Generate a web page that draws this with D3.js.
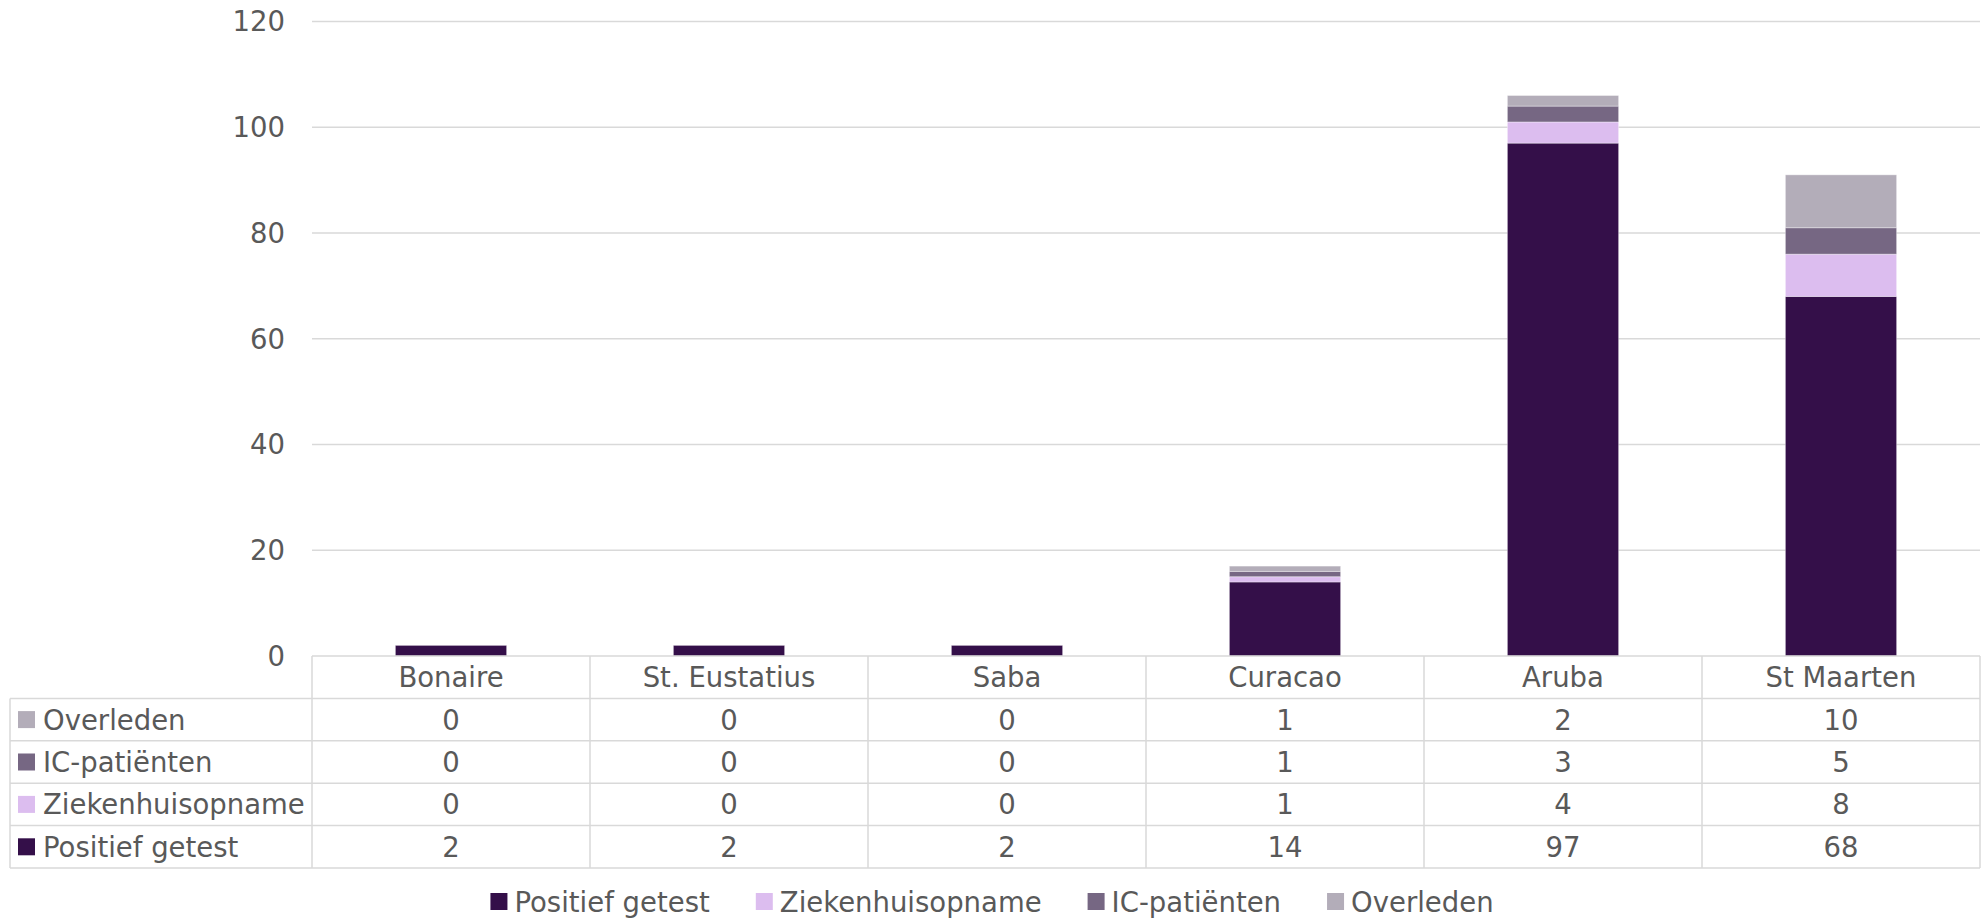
<!DOCTYPE html>
<html>
<head>
<meta charset="utf-8">
<script src="https://cdn.jsdelivr.net/npm/d3@7"></script>
<style>
  body { margin: 0; background: #fff; }
  svg { display: block; font-family: "DejaVu Sans", Verdana, sans-serif; }
</style>
</head>
<body>
<svg id="chart" width="1984" height="919"></svg>
<script>
// Data
const categories = ["Bonaire", "St. Eustatius", "Saba", "Curacao", "Aruba", "St Maarten"];
const positief = [2, 2, 2, 14, 97, 68];
const ziekenhuis = [0, 0, 0, 1, 4, 8];
const icPatienten = [0, 0, 0, 1, 3, 5];
const overleden = [0, 0, 0, 1, 2, 10];
const seriesNames = ["Positief getest", "Ziekenhuisopname", "IC-patiënten", "Overleden"];
const yTicks = [0, 20, 40, 60, 80, 100, 120];

const colors = ["#340f49", "#dcbdef", "#766783", "#b3adb9"];
const values = [positief, ziekenhuis, icPatienten, overleden];

const svg = d3.select("#chart");
const fs = 27.5;
const textColor = "#595959";
const gridColor = "#d9d9d9";

// Plot area
const plotLeft = 312, plotRight = 1980, plotTop = 21.5, zeroY = 656;
const rowH = 42.4;

const x = d3.scaleBand().domain(categories).range([plotLeft, plotRight]).paddingInner(0.6).paddingOuter(0.3);
const col = d3.scaleBand().domain(categories).range([plotLeft, plotRight]);
const y = d3.scaleLinear().domain([0, 120]).range([zeroY, plotTop]);

// Gridlines
svg.append("g")
  .selectAll("line")
  .data(yTicks.filter((t) => t > 0))
  .join("line")
  .attr("x1", plotLeft)
  .attr("x2", plotRight)
  .attr("y1", (d) => y(d))
  .attr("y2", (d) => y(d))
  .attr("stroke", gridColor)
  .attr("stroke-width", 1.5);

// Y axis labels
svg.append("g")
  .selectAll("text")
  .data(yTicks)
  .join("text")
  .attr("x", 285)
  .attr("y", (d) => y(d) + fs * 0.36)
  .attr("text-anchor", "end")
  .attr("fill", textColor)
  .style("font-size", fs + "px")
  .text((d) => d);

// Stacked bars
const rows = categories.map((c, i) => {
  const r = { cat: c };
  seriesNames.forEach((s, j) => (r[s] = values[j][i]));
  return r;
});
const stacked = d3.stack().keys(seriesNames)(rows);

svg.append("g")
  .selectAll("g")
  .data(stacked)
  .join("g")
  .attr("fill", (d, i) => colors[i])
  .selectAll("rect")
  .data((d) => d)
  .join("rect")
  .attr("x", (d) => x(d.data.cat))
  .attr("width", x.bandwidth())
  .attr("y", (d) => y(d[1]))
  .attr("height", (d) => y(d[0]) - y(d[1]))
  .attr("stroke", "#ffffff")
  .attr("stroke-opacity", 0.35)
  .attr("stroke-width", 1);

// Data table
const table = svg.append("g");
const tableRows = [3, 2, 1, 0]; // Overleden, IC, Ziekenhuis, Positief
const tableBottom = zeroY + rowH * (tableRows.length + 1);
const lineStyle = (sel) => sel.attr("stroke", gridColor).attr("stroke-width", 1.5);

// horizontal lines
table.append("line").attr("x1", plotLeft).attr("x2", plotRight).attr("y1", zeroY).attr("y2", zeroY).call(lineStyle);
d3.range(1, tableRows.length + 2).forEach((k) => {
  table.append("line")
    .attr("x1", 10).attr("x2", plotRight)
    .attr("y1", zeroY + k * rowH).attr("y2", zeroY + k * rowH)
    .call(lineStyle);
});
// vertical lines
table.append("line").attr("x1", 10).attr("x2", 10).attr("y1", zeroY + rowH).attr("y2", tableBottom).call(lineStyle);
categories.forEach((c) => {
  table.append("line").attr("x1", col(c)).attr("x2", col(c)).attr("y1", zeroY).attr("y2", tableBottom).call(lineStyle);
});
table.append("line").attr("x1", plotRight).attr("x2", plotRight).attr("y1", zeroY).attr("y2", tableBottom).call(lineStyle);

// category header
table.selectAll("text.cat")
  .data(categories)
  .join("text")
  .attr("class", "cat")
  .attr("x", (d) => col(d) + col.bandwidth() / 2)
  .attr("y", zeroY + rowH / 2 + fs * 0.36)
  .attr("text-anchor", "middle")
  .attr("fill", textColor)
  .style("font-size", fs + "px")
  .text((d) => d);

tableRows.forEach((s, r) => {
  const cy = zeroY + rowH * (r + 1) + rowH / 2;
  table.append("rect")
    .attr("x", 18).attr("y", cy - 8.5).attr("width", 17).attr("height", 17)
    .attr("fill", colors[s]);
  table.append("text")
    .attr("x", 43).attr("y", cy + fs * 0.36)
    .attr("fill", textColor)
    .style("font-size", fs + "px")
    .text(seriesNames[s]);
  table.append("g")
    .selectAll("text")
    .data(values[s])
    .join("text")
    .attr("x", (d, i) => col(categories[i]) + col.bandwidth() / 2)
    .attr("y", cy + fs * 0.36)
    .attr("text-anchor", "middle")
    .attr("fill", textColor)
    .style("font-size", fs + "px")
    .text((d) => d);
});

// Legend, centred under the chart
const legend = svg.append("g");
const legendY = 902;
const items = legend.selectAll("g")
  .data(seriesNames)
  .join("g");
items.append("rect")
  .attr("y", legendY - 9).attr("width", 17).attr("height", 17)
  .attr("fill", (d, i) => colors[i]);
items.append("text")
  .attr("x", 24)
  .attr("y", legendY + fs * 0.36)
  .attr("fill", textColor)
  .style("font-size", fs + "px")
  .text((d) => d);

let pos = 0;
const offsets = [];
items.each(function () {
  const w = 24 + d3.select(this).select("text").node().getComputedTextLength();
  offsets.push(pos);
  pos += w + 46;
});
const total = pos - 46;
const start = 992 - total / 2;
items.attr("transform", (d, i) => `translate(${start + offsets[i]},0)`);
</script>
</body>
</html>
